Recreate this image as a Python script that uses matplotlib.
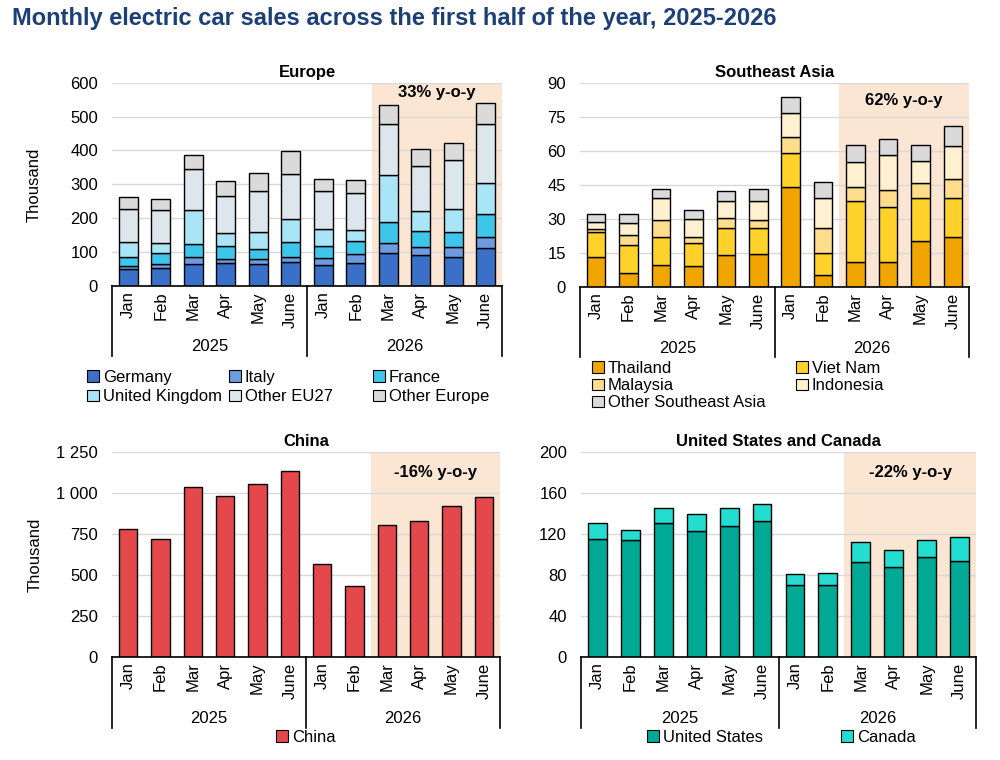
import matplotlib
matplotlib.use("Agg")
import matplotlib.pyplot as plt
import matplotlib.transforms as mtransforms
from matplotlib.patches import Patch
from matplotlib.ticker import FuncFormatter
import numpy as np

plt.rcParams['font.family'] = ['Liberation Sans', 'DejaVu Sans']

# ---------------- data ----------------
months = ['Jan', 'Feb', 'Mar', 'Apr', 'May', 'June'] * 2
years = ['2025', '2026']

# Europe (thousand)
eu_names = ['Germany', 'Italy', 'France', 'United Kingdom', 'Other EU27', 'Other Europe']
germany = [49, 53, 66, 67, 64, 71, 61, 67, 97, 90, 87, 113]
italy = [11, 13, 19, 14, 17, 15, 22, 26, 31, 24, 27, 31]
france = [27, 32, 38, 37, 29, 43, 35, 40, 61, 47, 45, 69]
uk = [42, 29, 102, 39, 50, 68, 49, 33, 138, 61, 67, 91]
other_eu27 = [98, 96, 119, 109, 121, 134, 113, 109, 150, 132, 146, 175]
other_europe = [37, 34, 44, 43, 53, 67, 36, 37, 56, 50, 50, 61]
eu_colors = ['#3A70C8', '#6E9BDF', '#3EC6EA', '#A9E5F6', '#DDE6EC', '#DADADA']

# Southeast Asia (thousand)
sea_names = ['Thailand', 'Viet Nam', 'Malaysia', 'Indonesia', 'Other Southeast Asia']
thailand = [13.2, 6.0, 9.7, 9.4, 14.1, 14.6, 44.0, 5.4, 11.2, 11.2, 20.3, 21.9]
vietnam = [10.8, 12.7, 12.2, 9.9, 11.8, 11.3, 15.1, 9.7, 26.6, 24.2, 18.8, 17.4]
malaysia = [1.7, 4.3, 7.8, 2.7, 4.7, 3.8, 6.9, 10.9, 6.2, 7.4, 6.6, 8.1]
indonesia = [2.8, 5.2, 9.7, 8.1, 7.3, 8.1, 10.8, 13.3, 10.9, 15.4, 9.7, 14.7]
other_sea = [3.7, 3.8, 3.7, 3.6, 4.6, 5.3, 6.7, 7.0, 7.6, 7.2, 7.1, 8.9]
sea_colors = ['#F0A500', '#FFD12B', '#FFDD8C', '#FFF0CF', '#DADADA']

# China (thousand)
china = [780, 719, 1034, 979, 1053, 1132, 568, 432, 806, 829, 922, 977]
china_colors = ['#E5484A']

# United States and Canada (thousand)
us = [114.7, 114.4, 130.3, 122.9, 127.4, 132.6, 70.0, 70.0, 92.4, 88.2, 97.2, 94.0]
canada = [16.3, 9.6, 14.6, 16.5, 17.5, 16.5, 11.0, 12.3, 19.4, 16.2, 17.2, 23.3]
na_colors = ['#00A896', '#22DDD0']

titles = ['Europe', 'Southeast Asia', 'China', 'United States and Canada']
yoy = ['33% y-o-y', '62% y-o-y', '-16% y-o-y', '-22% y-o-y']
yticks = [[0, 100, 200, 300, 400, 500, 600],
          [0, 15, 30, 45, 60, 75, 90],
          [0, 250, 500, 750, 1000, 1250],
          [0, 40, 80, 120, 160, 200]]

SHADE = '#FBE6D4'
GRID = '#D9D9D9'

fig = plt.figure(figsize=(10, 7.6), dpi=100)
fig.text(0.012, 0.976, 'Monthly electric car sales across the first half of the year, 2025-2026',
         fontsize=17, fontweight='bold', color='#1C3F76', ha='left', va='center')

positions = [
    [0.112, 0.6237, 0.390, 0.2675],
    [0.580, 0.6224, 0.389, 0.2688],
    [0.112, 0.1355, 0.388, 0.2698],
    [0.581, 0.1355, 0.395, 0.2698],
]

series_sets = [
    (eu_names, [germany, italy, france, uk, other_eu27, other_europe], eu_colors),
    (sea_names, [thailand, vietnam, malaysia, indonesia, other_sea], sea_colors),
    (['China'], [china], china_colors),
    (['United States', 'Canada'], [us, canada], na_colors),
]

yoy_y = [0.95, 0.915, 0.9, 0.9]

axes = []
for i in range(4):
    ax = fig.add_axes(positions[i])
    axes.append(ax)
    names, data, colors = series_sets[i]
    x = np.arange(len(months))
    bottom = np.zeros(len(months))
    for vals, c in zip(data, colors):
        ax.bar(x, vals, 0.57, bottom=bottom, color=c, edgecolor='black', linewidth=1.0, zorder=3)
        bottom += np.array(vals)
    ymax = yticks[i][-1]
    ax.set_xlim(-0.5, 11.5)
    ax.set_ylim(0, ymax)
    ax.axvspan(7.5, 11.5, ymin=0, ymax=1, color=SHADE, zorder=0, lw=0)
    ax.set_yticks(yticks[i])
    ax.yaxis.set_major_formatter(FuncFormatter(lambda v, p: f'{int(v):,}'.replace(',', ' ')))
    ax.grid(axis='y', color=GRID, linewidth=1.0, zorder=1)
    ax.set_axisbelow(True)
    for s in ['left', 'right', 'top']:
        ax.spines[s].set_visible(False)
    ax.spines['bottom'].set_color('black')
    ax.spines['bottom'].set_linewidth(1.2)
    ax.spines['bottom'].set_zorder(4)
    ax.tick_params(axis='y', length=0, labelsize=12, pad=10)
    ax.set_xticks(x)
    ax.set_xticklabels(months, rotation=90, fontsize=12)
    ax.tick_params(axis='x', length=0, pad=4)
    ax.set_title(titles[i], fontsize=12, fontweight='bold', pad=4)
    ax.text(9.5, ymax * yoy_y[i], yoy[i], ha='center', va='center', fontsize=12, fontweight='bold', zorder=5)
    # hierarchical x axis
    trans = mtransforms.blended_transform_factory(ax.transData, ax.transAxes)
    for xs in [-0.5, 5.5, 11.5]:
        ax.plot([xs, xs], [0, -0.345], transform=trans, color='black', lw=1.2, clip_on=False, zorder=4)
    for j, yr in enumerate(years):
        ax.text(2.5 + 6 * j, -0.30, yr, transform=trans, ha='center', va='center', fontsize=12)
    if i in (0, 2):
        ax.set_ylabel('Thousand', fontsize=12)
        ax.yaxis.set_label_coords(-0.18, 0.5)

# legends
def handles(names, colors):
    return [Patch(facecolor=c, edgecolor='black', linewidth=0.8, label=n) for n, c in zip(names, colors)]

LEG = dict(frameon=False, fontsize=12, handlelength=0.7, handleheight=0.7,
           handletextpad=0.25, borderaxespad=0, borderpad=0)

# Europe: three fixed-width columns
h = handles(eu_names, eu_colors)
col_x = [0.087, 0.229, 0.373]
for c in range(3):
    fig.legend([h[c], h[c + 3]], [eu_names[c], eu_names[c + 3]], ncol=1, loc='upper left',
               bbox_to_anchor=(col_x[c], 0.513), labelspacing=0.25, **LEG)

# Southeast Asia: two fixed-width columns
h = handles(sea_names, sea_colors)
fig.legend([h[0], h[2], h[4]], [sea_names[0], sea_names[2], sea_names[4]], ncol=1, loc='upper left',
           bbox_to_anchor=(0.592, 0.525), labelspacing=0.13, **LEG)
fig.legend([h[1], h[3]], [sea_names[1], sea_names[3]], ncol=1, loc='upper left',
           bbox_to_anchor=(0.796, 0.525), labelspacing=0.13, **LEG)

h = handles(['China'], china_colors)
fig.legend(h, ['China'], ncol=1, loc='center', bbox_to_anchor=(0.306, 0.030), **LEG)

h = handles(['United States', 'Canada'], na_colors)
fig.legend(h, ['United States', 'Canada'], ncol=2, loc='center', bbox_to_anchor=(0.7815, 0.030),
           columnspacing=4.7, **LEG)

fig.savefig('out.png', dpi=100)
